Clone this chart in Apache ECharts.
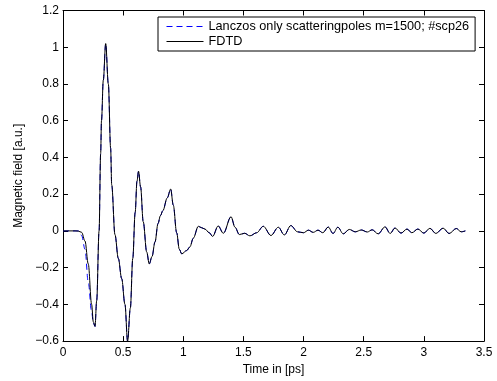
<!DOCTYPE html>
<html>
<head>
<meta charset="utf-8">
<script src="https://cdn.jsdelivr.net/npm/echarts@6/dist/echarts.min.js"></script>
<style>html,body{margin:0;padding:0;background:#fff}#c{width:497px;height:381px}</style>
</head>
<body>
<div id="c"></div>
<script>
const timePs = [0, 0.05, 0.10, 0.127, 0.155, 0.183, 0.21, 0.238, 0.252, 0.266, 0.28, 0.30, 0.313, 0.32, 0.335, 0.355, 0.377, 0.396, 0.405, 0.432, 0.46, 0.488, 0.515, 0.537, 0.56, 0.58, 0.60, 0.615, 0.628, 0.645, 0.667, 0.696, 0.717, 0.74, 0.765, 0.79, 0.81, 0.83, 0.867, 0.895, 0.917, 0.945, 0.967, 0.987, 1.028, 1.055, 1.083, 1.125, 1.15, 1.18, 1.216, 1.244, 1.29, 1.333, 1.397, 1.43, 1.466, 1.51, 1.554, 1.61, 1.665, 1.729, 1.79, 1.84, 1.894, 1.95, 2.0, 2.04, 2.08, 2.12, 2.16, 2.205, 2.245, 2.285, 2.33, 2.38, 2.43, 2.48, 2.53, 2.57, 2.62, 2.677, 2.72, 2.76, 2.81, 2.86, 2.9, 2.95, 3.0, 3.05, 3.1, 3.16, 3.21, 3.27, 3.31, 3.345];
const fdtdField = [0, 0, 0, -0.001, -0.008, -0.055, -0.18, -0.40, -0.495, -0.52, -0.38, 0.0, 0.42, 0.6, 0.82, 1.02, 0.8, 0.45, 0.25, -0.02, -0.15, -0.26, -0.4, -0.6, -0.42, -0.15, 0.1, 0.27, 0.325, 0.24, 0.05, -0.115, -0.18, -0.14, -0.06, 0.04, 0.083, 0.11, 0.18, 0.228, 0.14, -0.01, -0.1, -0.125, -0.107, -0.087, -0.04, 0.025, 0.018, 0.01, -0.01, -0.03, 0.027, -0.013, 0.077, 0.02, -0.02, -0.013, -0.027, -0.01, 0.025, -0.025, 0.02, -0.022, 0.029, -0.005, -0.01, 0.004, -0.008, 0.004, -0.01, 0.021, -0.014, 0.02, -0.016, 0.008, -0.005, 0.005, -0.006, 0.006, -0.016, 0.022, -0.014, 0.016, -0.012, 0.01, -0.01, 0.01, -0.012, 0.014, -0.014, 0.015, -0.014, 0.013, -0.005, 0.0];
const lanczosField = [0, 0, 0, 0, -0.025, -0.1, -0.28, -0.44, -0.50, -0.52, -0.38, 0.0, 0.42, 0.6, 0.82, 1.02, 0.8, 0.45, 0.25, -0.02, -0.15, -0.26, -0.4, -0.6, -0.42, -0.15, 0.1, 0.27, 0.325, 0.24, 0.05, -0.115, -0.18, -0.14, -0.06, 0.04, 0.083, 0.11, 0.18, 0.228, 0.14, -0.01, -0.1, -0.125, -0.107, -0.087, -0.04, 0.025, 0.018, 0.01, -0.01, -0.03, 0.027, -0.013, 0.077, 0.02, -0.02, -0.013, -0.027, -0.01, 0.025, -0.025, 0.02, -0.022, 0.029, -0.005, -0.01, 0.004, -0.008, 0.004, -0.01, 0.021, -0.014, 0.02, -0.016, 0.008, -0.005, 0.005, -0.006, 0.006, -0.016, 0.022, -0.014, 0.016, -0.012, 0.01, -0.01, 0.01, -0.012, 0.014, -0.014, 0.015, -0.014, 0.013, -0.005, 0.0];
const seriesNames = ['Lanczos only scatteringpoles m=1500; #scp26', 'FDTD'];
const xAxisTitle = 'Time in [ps]';
const yAxisTitle = 'Magnetic field [a.u.]';

const FONT = 'Liberation Sans, Arial, Helvetica, sans-serif';
const fmt = v => {
  const r = Math.round(v * 1000) / 1000;
  return String(r).replace('-', '\u2212');
};
const pairs = arr => timePs.map((t, i) => [t, arr[i]]);

const chart = echarts.init(document.getElementById('c'), null, {renderer: 'canvas'});
const axisLine = {show: true, onZero: false, lineStyle: {color: '#000', width: 1}};
const tickIn = {show: true, inside: true, length: 5, lineStyle: {color: '#000'}};
chart.setOption({
  animation: false,
  backgroundColor: '#fff',
  grid: {left: 63, right: 13, top: 10.5, bottom: 38, containLabel: false},
  legend: {
    left: 158, top: 17, orient: 'vertical',
    padding: [3, 6, 3, 8], itemGap: 2, itemWidth: 37, itemHeight: 14,
    backgroundColor: '#fff', borderColor: '#000', borderWidth: 1, borderRadius: 0,
    itemStyle: {opacity: 0},
    lineStyle: {width: 1},
    textStyle: {fontFamily: FONT, fontSize: 12.7, color: '#000'},
    data: seriesNames
  },
  xAxis: [{
    type: 'value', min: 0, max: 3.5, interval: 0.5,
    name: xAxisTitle, nameLocation: 'middle', nameGap: 21,
    nameTextStyle: {fontFamily: FONT, fontSize: 12, color: '#000'},
    axisLine: axisLine, axisTick: tickIn, splitLine: {show: false},
    axisLabel: {fontFamily: FONT, fontSize: 12, color: '#000', margin: 6, formatter: fmt}
  }, {
    type: 'value', min: 0, max: 3.5, interval: 0.5, position: 'top',
    axisLine: axisLine, axisTick: tickIn, splitLine: {show: false}, axisLabel: {show: false}
  }],
  yAxis: [{
    type: 'value', min: -0.6, max: 1.2, interval: 0.2,
    name: yAxisTitle, nameLocation: 'middle', nameGap: 36,
    nameTextStyle: {fontFamily: FONT, fontSize: 12, color: '#000'},
    axisLine: axisLine, axisTick: tickIn, splitLine: {show: false},
    axisLabel: {fontFamily: FONT, fontSize: 12, color: '#000', margin: 4, formatter: fmt}
  }, {
    type: 'value', min: -0.6, max: 1.2, interval: 0.2, position: 'right',
    axisLine: axisLine, axisTick: tickIn, splitLine: {show: false}, axisLabel: {show: false}
  }],
  series: [{
    name: seriesNames[0], type: 'line', data: pairs(lanczosField),
    symbol: 'none', smooth: 0.35, smoothMonotone: 'x', z: 2,
    lineStyle: {color: '#0000ff', width: 1, type: [6, 4]},
    itemStyle: {color: '#0000ff'}
  }, {
    name: seriesNames[1], type: 'line', data: pairs(fdtdField),
    symbol: 'none', smooth: 0.35, smoothMonotone: 'x', z: 3,
    lineStyle: {color: '#000', width: 1, type: 'solid'},
    itemStyle: {color: '#000'}
  }]
});
</script>
</body>
</html>
